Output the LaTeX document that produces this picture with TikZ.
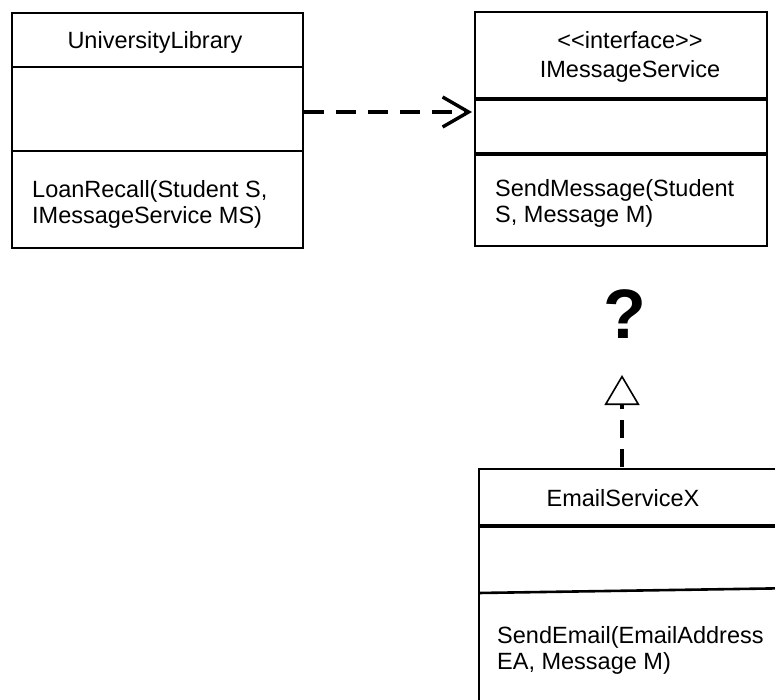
\documentclass[tikz,border=0pt]{standalone}
\usepackage{fontspec}
\setmainfont{Liberation Sans}
\usetikzlibrary{arrows.meta}
\begin{document}
\begin{tikzpicture}[x=1pt,y=-1pt,
  classbox/.style={draw=black, line width=1.6pt, rectangle, inner sep=0pt},
  divthin/.style={line width=2pt},
  divthick/.style={line width=3.4pt},
  lbl/.style={font=\fontsize{23.5}{26}\selectfont, inner sep=0pt},
  dep/.style={line width=3.8pt, dash pattern=on 20pt off 12pt, -{Straight Barb[length=26pt,width=30pt,line width=3.4pt]}},
  real/.style={line width=3.6pt, dash pattern=on 18pt off 11pt, -{Triangle[open,length=30pt,width=35pt,line width=1.6pt]}}
]
\useasboundingbox (0,0) rectangle (775,700);
\clip (0,0) rectangle (775,700);
\fill[white] (0,0) rectangle (775,700);

% boxes
\node[classbox, minimum width=291pt, minimum height=235pt] (ul) at (157.5,130.5) {};
\node[classbox, minimum width=292pt, minimum height=234pt] (im) at (621,129) {};
\node[classbox, minimum width=321pt, minimum height=251pt] (es) at (639.5,594.5) {};

% dividers
\draw[divthin] (ul.west |- 0,67.5) -- (ul.east |- 0,67.5);
\draw[divthin] (ul.west |- 0,151) -- (ul.east |- 0,151);
\draw[divthick] (im.west |- 0,99) -- (im.east |- 0,99);
\draw[divthick] (im.west |- 0,154) -- (im.east |- 0,154);
\draw[divthick] (es.west |- 0,526) -- (es.east |- 0,526);
\draw[line width=2.6pt] (es.west |- 0,593) -- (es.east |- 0,588);

% texts
\node[lbl] (ultitle) at (155,42) {UniversityLibrary};
\node[lbl, anchor=west, align=left] (ulops) at (32,204) {LoanRecall(Student S,\\IMessageService MS)};
\node[lbl, align=center, font=\fontsize{23.5}{29}\selectfont] (imtitle) at (630,57) {<{}<interface>{}>\\IMessageService};
\node[lbl, anchor=west, align=left] (imops) at (495,203.5) {SendMessage(Student\\S, Message M)};
\node[lbl] (estitle) at (623,498) {EmailServiceX};
\node[lbl, anchor=west, align=left] (esops) at (497,650) {SendEmail(EmailAddress\\EA, Message M)};
\node[inner sep=0pt, font=\fontsize{70}{70}\bfseries\selectfont] (q) at (625,314) {?};

% connectors
\coordinate (depstart) at (ul.east |- 0,112);
\coordinate (depend) at (472,112);
\draw[dep] (depstart) -- (depend);
\coordinate (realstart) at (622,467);
\coordinate (realend) at (622,375);
\draw[real] (realstart) -- (realend);
\end{tikzpicture}
\end{document}
